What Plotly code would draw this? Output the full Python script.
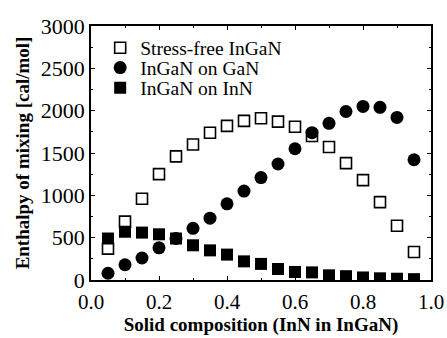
import plotly.graph_objects as go

x_comp = [0.05, 0.10, 0.15, 0.20, 0.25, 0.30, 0.35, 0.40, 0.45, 0.50,
          0.55, 0.60, 0.65, 0.70, 0.75, 0.80, 0.85, 0.90, 0.95]
stress_free = [370, 690, 960, 1250, 1460, 1600, 1740, 1820, 1880, 1910,
               1870, 1810, 1700, 1570, 1380, 1180, 920, 640, 330]
on_gan = [80, 180, 260, 380, 490, 610, 730, 900, 1050, 1210,
          1370, 1550, 1740, 1850, 1990, 2050, 2040, 1920, 1420]
on_inn = [490, 570, 560, 540, 490, 410, 350, 300, 220, 190,
          130, 95, 90, 55, 45, 30, 20, 15, 10]

x_tickvals = [0.0, 0.2, 0.4, 0.6, 0.8, 1.0]
x_ticktext = ["0.0", "0.2", "0.4", "0.6", "0.8", "1.0"]
y_tickvals = [0, 500, 1000, 1500, 2000, 2500, 3000]

serif = "Liberation Serif, Times New Roman, serif"

fig = go.Figure()
fig.add_trace(go.Scatter(x=x_comp, y=stress_free, mode="markers", name="Stress-free InGaN",
                         legend="legend",
                         marker=dict(symbol="square-open", size=11, color="black",
                                     line=dict(width=1.6, color="black"))))
fig.add_trace(go.Scatter(x=x_comp, y=on_gan, mode="markers", name="InGaN on GaN",
                         legend="legend2",
                         marker=dict(symbol="circle", size=13, color="black")))
fig.add_trace(go.Scatter(x=x_comp, y=on_inn, mode="markers", name="InGaN on InN",
                         legend="legend3",
                         marker=dict(symbol="square", size=12, color="black")))

leg_common = dict(x=0.027, xanchor="left", yanchor="middle",
                  bgcolor="rgba(0,0,0,0)", font=dict(size=19.5, family=serif),
                  itemsizing="trace")

fig.update_layout(
    width=447, height=338,
    margin=dict(l=91, r=16, t=26, b=58),
    paper_bgcolor="white", plot_bgcolor="white",
    font=dict(family=serif, color="black", size=18),
    showlegend=True,
    legend=dict(y=0.913, **leg_common),
    legend2=dict(y=0.835, **leg_common),
    legend3=dict(y=0.756, **leg_common),
    xaxis=dict(range=[0, 1.0], tickvals=x_tickvals, ticktext=x_ticktext,
               automargin=False, ticklabelstandoff=2,
               ticks="inside", ticklen=4, tickwidth=1.2, tickcolor="black",
               showline=True, linecolor="black", linewidth=1.5, mirror="ticks",
               showgrid=False, zeroline=False,
               tickfont=dict(size=21, family=serif),
               minor=dict(dtick=0.1, ticks="inside", ticklen=2, tickcolor="black"),
               title=dict(text="<b>Solid composition (InN in InGaN)</b>",
                          font=dict(size=19, family=serif, color="black"), standoff=2)),
    yaxis=dict(range=[0, 3000], tickvals=y_tickvals,
               automargin=False,
               ticks="inside", ticklen=4, tickwidth=1.2, tickcolor="black",
               showline=True, linecolor="black", linewidth=1.5, mirror="ticks",
               showgrid=False, zeroline=False,
               tickfont=dict(size=22, family=serif),
               minor=dict(dtick=250, ticks="inside", ticklen=2, tickcolor="black"),
               title=dict(text="<b>Enthalpy of mixing [cal/mol]</b>",
                          font=dict(size=19, family=serif, color="black"), standoff=6)),
)

fig.write_html("out.html", config={"displayModeBar": False},
               post_script="document.body.style.margin='0';")
